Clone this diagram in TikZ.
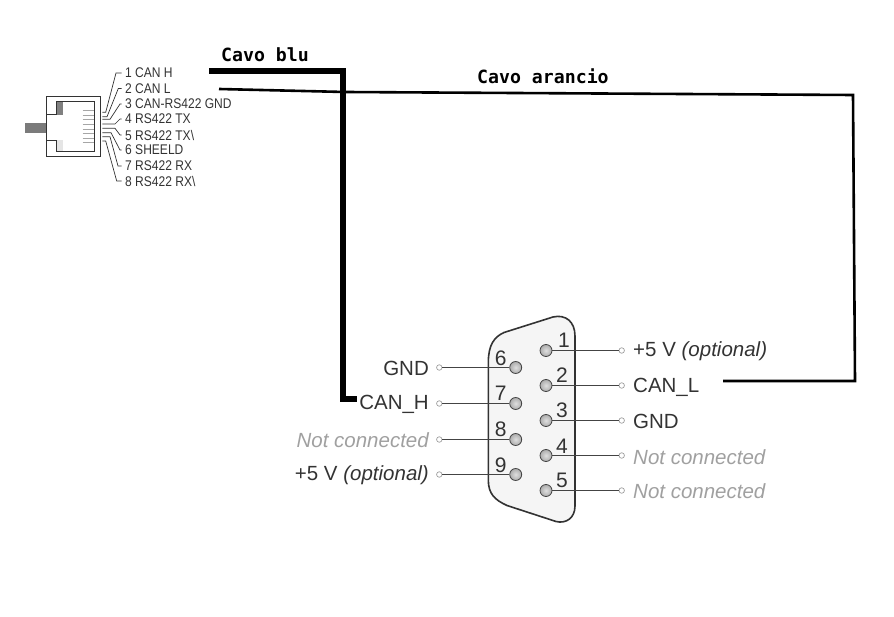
\documentclass[tikz,border=0pt]{standalone}
\usepackage{fontspec}
\setmainfont{Liberation Sans}
\newfontfamily\narrowfont[FakeStretch=0.86]{Liberation Sans}
\newfontfamily\cablefont{DejaVu Sans Mono}
\usepackage{xcolor}
\usetikzlibrary{arrows, positioning, calc}
\definecolor{pinline}{HTML}{444444}
\definecolor{notconn}{HTML}{A0A0A0}
\definecolor{textdark}{HTML}{333333}

\begin{document}
\begin{tikzpicture}[x=1pt,y=-1pt,
		rj label/.style={font=\narrowfont\fontsize{14}{14}\selectfont,anchor=west,inner sep=0pt,text=textdark},
		pin num/.style={font=\fontsize{21}{21}\selectfont,inner sep=0pt,text=textdark},
		pin ball/.style={circle,draw=pinline,line width=.8pt,minimum size=12pt,inner sep=0pt,inner color=gray!25,outer color=gray!65},
		pin end/.style={circle,draw=notconn,line width=.7pt,fill=white,minimum size=5.5pt,inner sep=0pt},
		pin text/.style={font=\fontsize{20.5}{20.5}\selectfont,inner sep=0pt,text=textdark},
		off text/.style={pin text,text=notconn,font=\fontsize{20.5}{20.5}\selectfont\itshape},
		pin wire/.style={draw=pinline,line width=1.3pt},
		cable title/.style={font=\cablefont\bfseries\fontsize{18.2}{18.2}\selectfont,inner sep=0pt,anchor=west}]
	\useasboundingbox (0,0) rectangle (894,617);

	% RJ45 plug
	\fill[gray!85!black!90] (25,123) rectangle (46.7,133);
	\fill[gray] (57.3,102.3) rectangle (63.3,114.7);
	\fill[gray!20] (57.3,140) rectangle (63.3,151);
	\draw[line width=.9pt,textdark] (46.7,96.7) rectangle (100,156.7);
	\draw[line width=.9pt,textdark] (46.7,114) -- (56.7,114) -- (56.7,101.7) -- (94.3,101.7)
		-- (94.3,151.7) -- (56.7,151.7) -- (56.7,140) -- (46.7,140);
	\foreach \n in {0,...,7}
		\draw[gray!70,line width=.9pt] ({82.7},{110.7+4.57*\n}) -- ({94.3},{110.7+4.57*\n});

	% RJ45 labels
	\node[rj label] (r1) at (125,73) {1 CAN H};
	\node[rj label] (r2) at (125,88.5) {2 CAN L};
	\node[rj label] (r3) at (125,104) {3 CAN-RS422 GND};
	\node[rj label] (r4) at (125,119) {4 RS422 TX};
	\node[rj label] (r5) at (125,135) {5 RS422 TX\textbackslash};
	\node[rj label] (r6) at (125,150) {6 SHEELD};
	\node[rj label] (r7) at (125,166) {7 RS422 RX};
	\node[rj label] (r8) at (125,181) {8 RS422 RX\textbackslash};

	% leads of the plug
	\foreach \n/\sy/\kx/\mx in {1/112.3/105.7/116,2/116.7/107/118.3,3/119.3/110/120,4/124/115/120,
			5/128.3/115/120,6/132.7/111/120,7/136.7/110/118,8/141/105.7/116.7}
		\draw[line width=.7pt,textdark,shorten >=3.5pt] (102.3,\sy) -- (\kx,\sy) -- (\mx,0 |- r\n.west) -- (r\n.west);

	% DB9 shell
	\draw[line width=1.6pt,draw=textdark,fill=gray!8] (488.3,362) .. controls (488.5,345) and (494,337) .. (504,332.5)
		-- (553,317) .. controls (566,314) and (575,322) .. (575,336) -- (575,506)
		.. controls (575,518) and (566,524) .. (556,521.5) -- (507,505.5)
		.. controls (495,500) and (488.3,494) .. (488.3,480) -- cycle;

	% DB9 pins
	\node[pin ball] (p1) at (546,350.5) {};
	\node[pin ball] (p2) at (546,385.5) {};
	\node[pin ball] (p3) at (546,420.5) {};
	\node[pin ball] (p4) at (546,455.5) {};
	\node[pin ball] (p5) at (546,490.5) {};
	\node[pin ball] (p6) at (515.7,367.5) {};
	\node[pin ball] (p7) at (515.7,403.5) {};
	\node[pin ball] (p8) at (515.7,439.5) {};
	\node[pin ball] (p9) at (515.7,474.5) {};

	\node[pin num] (n1) at (564,340) {1};
	\node[pin num] (n2) at (562,375) {2};
	\node[pin num] (n3) at (562,410) {3};
	\node[pin num] (n4) at (562,446.5) {4};
	\node[pin num] (n5) at (562,480.5) {5};
	\node[pin num] (n6) at (500.7,358) {6};
	\node[pin num] (n7) at (500.7,393) {7};
	\node[pin num] (n8) at (500.7,429) {8};
	\node[pin num] (n9) at (500.7,465) {9};

	\node[pin end] (e1) at (621.7,350.5) {};
	\node[pin end] (e2) at (621.7,385.5) {};
	\node[pin end] (e3) at (621.7,420.5) {};
	\node[pin end] (e4) at (621.7,455.5) {};
	\node[pin end] (e5) at (621.7,490.5) {};
	\node[pin end] (e6) at (439.3,367.5) {};
	\node[pin end] (e7) at (439.3,403.5) {};
	\node[pin end] (e8) at (439.3,439.5) {};
	\node[pin end] (e9) at (439.3,474.5) {};

	\foreach \n in {1,...,9}
		\draw[pin wire] (p\n) -- (e\n);

	% pin labels
	\node[pin text,anchor=base west] (l1) at (633,356) {+5 V \textit{(optional)}};
	\node[pin text,anchor=base west] (l2) at (633,392) {CAN\_L};
	\node[pin text,anchor=base west] (l3) at (633,428) {GND};
	\node[off text,anchor=base west] (l4) at (633,464) {Not connected};
	\node[off text,anchor=base west] (l5) at (633,498) {Not connected};
	\node[pin text,anchor=base east] (l6) at (429,375) {GND};
	\node[pin text,anchor=base east] (l7) at (429,409) {CAN\_H};
	\node[off text,anchor=base east] (l8) at (429,447) {Not connected};
	\node[pin text,anchor=base east] (l9) at (429,480) {+5 V \textit{(optional)}};

	% cables
	\node[cable title] (blu) at (221,55) {Cavo blu};
	\node[cable title] (arancio) at (477,76) {Cavo arancio};
	\coordinate (blustart) at (209,71);
	\coordinate (bluend) at (357,399);
	\coordinate (aranciostart) at (219,89);
	\coordinate (aranciokink) at (345,92);
	\coordinate (aranciocorner) at (853,95);
	\coordinate (arancioend) at (723,381);

	\draw[line width=2.6pt] (aranciostart) -- (aranciokink) -- (aranciocorner) -- (855,381) -- (arancioend);
	\draw[line width=6pt] (blustart) -- (343,71) -- (343,399) -- (bluend);
\end{tikzpicture}
\end{document}
